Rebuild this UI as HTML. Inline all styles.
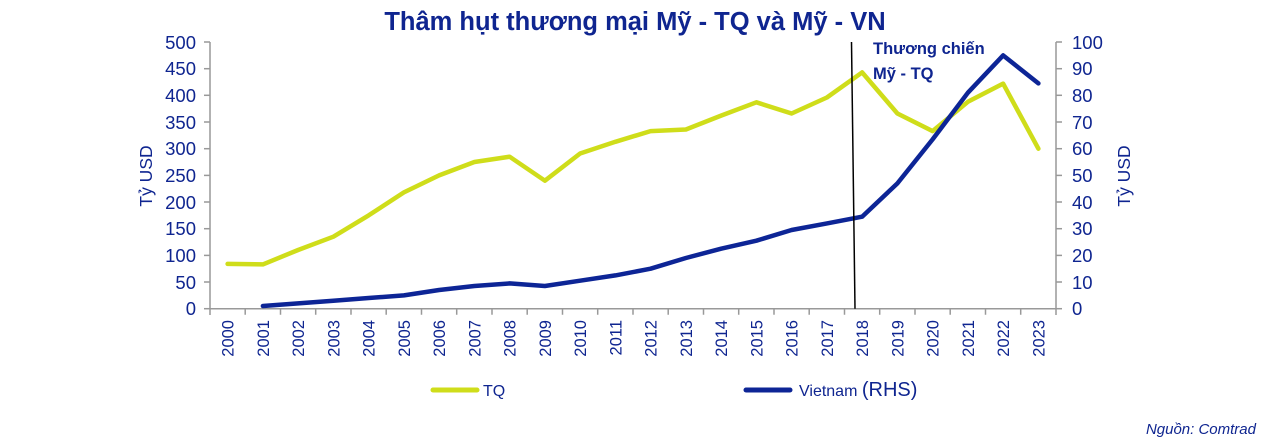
<!DOCTYPE html>
<html><head><meta charset="utf-8"><style>
body{margin:0;background:#fff;}
svg{display:block;font-family:"Liberation Sans","DejaVu Sans",sans-serif;}
</style></head><body>
<svg width="1280" height="448" viewBox="0 0 1280 448" xmlns="http://www.w3.org/2000/svg">
<rect width="1280" height="448" fill="#fff"/>
<text x="635" y="30" text-anchor="middle" font-size="25.5" font-weight="bold" fill="#0f2590">Thâm hụt thương mại Mỹ - TQ và Mỹ - VN</text>
<g stroke="#999" stroke-width="1.5" fill="none">
<line x1="210" y1="42" x2="210" y2="315"/>
<line x1="1056" y1="42" x2="1056" y2="315"/>
<line x1="210" y1="308.7" x2="1056" y2="308.7"/>
<g id="lt">
<line x1="204" y1="42" x2="210" y2="42"/><line x1="204" y1="68.7" x2="210" y2="68.7"/><line x1="204" y1="95.3" x2="210" y2="95.3"/><line x1="204" y1="122" x2="210" y2="122"/><line x1="204" y1="148.7" x2="210" y2="148.7"/><line x1="204" y1="175.4" x2="210" y2="175.4"/><line x1="204" y1="202" x2="210" y2="202"/><line x1="204" y1="228.7" x2="210" y2="228.7"/><line x1="204" y1="255.4" x2="210" y2="255.4"/><line x1="204" y1="282" x2="210" y2="282"/><line x1="204" y1="308.7" x2="210" y2="308.7"/>
</g>
<use href="#lt" transform="translate(852,0)"/>
<path d="M245.2 308.7v6M280.5 308.7v6M315.7 308.7v6M351 308.7v6M386.2 308.7v6M421.5 308.7v6M456.7 308.7v6M492 308.7v6M527.2 308.7v6M562.5 308.7v6M597.7 308.7v6M633 308.7v6M668.2 308.7v6M703.5 308.7v6M738.7 308.7v6M774 308.7v6M809.2 308.7v6M844.5 308.7v6M879.7 308.7v6M915 308.7v6M950.2 308.7v6M985.5 308.7v6M1020.7 308.7v6"/>
</g>
<g font-size="18.5" fill="#0f2590" text-anchor="end">
<text x="196" y="49">500</text><text x="196" y="75">450</text><text x="196" y="102">400</text><text x="196" y="129">350</text><text x="196" y="155">300</text><text x="196" y="182">250</text><text x="196" y="209">200</text><text x="196" y="235">150</text><text x="196" y="262">100</text><text x="196" y="289">50</text><text x="196" y="315">0</text>
</g>
<g font-size="18.5" fill="#0f2590" text-anchor="start">
<text x="1072" y="49">100</text><text x="1072" y="75">90</text><text x="1072" y="102">80</text><text x="1072" y="129">70</text><text x="1072" y="155">60</text><text x="1072" y="182">50</text><text x="1072" y="209">40</text><text x="1072" y="235">30</text><text x="1072" y="262">20</text><text x="1072" y="289">10</text><text x="1072" y="315">0</text>
</g>
<text transform="translate(152,176) rotate(-90)" text-anchor="middle" font-size="17.5" fill="#0f2590">Tỷ USD</text>
<text transform="translate(1130,176) rotate(-90)" text-anchor="middle" font-size="17.5" fill="#0f2590">Tỷ USD</text>
<g font-size="16.5" fill="#0f2590" text-anchor="end">
<text transform="translate(233.5,320) rotate(-90)">2000</text><text transform="translate(268.8,320) rotate(-90)">2001</text><text transform="translate(304,320) rotate(-90)">2002</text><text transform="translate(339.3,320) rotate(-90)">2003</text><text transform="translate(374.5,320) rotate(-90)">2004</text><text transform="translate(409.8,320) rotate(-90)">2005</text><text transform="translate(445,320) rotate(-90)">2006</text><text transform="translate(480.3,320) rotate(-90)">2007</text><text transform="translate(515.5,320) rotate(-90)">2008</text><text transform="translate(550.8,320) rotate(-90)">2009</text><text transform="translate(586,320) rotate(-90)">2010</text><text transform="translate(621.3,320) rotate(-90)">2011</text><text transform="translate(656.5,320) rotate(-90)">2012</text><text transform="translate(691.8,320) rotate(-90)">2013</text><text transform="translate(727,320) rotate(-90)">2014</text><text transform="translate(762.3,320) rotate(-90)">2015</text><text transform="translate(797.5,320) rotate(-90)">2016</text><text transform="translate(832.8,320) rotate(-90)">2017</text><text transform="translate(868,320) rotate(-90)">2018</text><text transform="translate(903.3,320) rotate(-90)">2019</text><text transform="translate(938.5,320) rotate(-90)">2020</text><text transform="translate(973.8,320) rotate(-90)">2021</text><text transform="translate(1009,320) rotate(-90)">2022</text><text transform="translate(1044.3,320) rotate(-90)">2023</text>
</g>
<polyline fill="none" stroke="#cfdd1a" stroke-width="4.5" stroke-linejoin="round" stroke-linecap="round" points="227.6,263.9 262.9,264.4 298.1,250 333.4,236.7 368.6,215.4 403.9,192.4 439.1,175.4 474.4,162 509.6,156.7 544.9,180.7 580.1,153.5 615.4,141.8 650.6,131.1 685.9,129.5 721.1,115.6 756.4,102.3 791.6,113.5 826.9,97.5 862.1,72.4 897.4,113.5 932.6,131.1 967.9,101.8 1003.1,83.6 1038.4,148.7"/>
<polyline fill="none" stroke="#0d2596" stroke-width="4.5" stroke-linejoin="round" stroke-linecap="round" points="262.9,306 298.1,303.4 333.4,300.7 368.6,298 403.9,295.4 439.1,290 474.4,286 509.6,283.4 544.9,286 580.1,280.7 615.4,275.4 650.6,268.7 685.9,258 721.1,248.7 756.4,240.7 791.6,230 826.9,223.4 862.1,216.7 897.4,183.4 932.6,139.4 967.9,92.7 1003.1,55.4 1038.4,83.4"/>
<line x1="851.5" y1="42" x2="855" y2="308.7" stroke="#000" stroke-width="1.5"/>
<text x="873" y="54" font-size="16.5" font-weight="bold" fill="#0f2590">Thương chiến</text>
<text x="873" y="79" font-size="16.5" font-weight="bold" fill="#0f2590">Mỹ - TQ</text>
<line x1="433" y1="390" x2="477" y2="390" stroke="#cfdd1a" stroke-width="5" stroke-linecap="round"/>
<text x="483" y="396" font-size="16" fill="#0f2590">TQ</text>
<line x1="746" y1="390" x2="790" y2="390" stroke="#0d2596" stroke-width="5" stroke-linecap="round"/>
<text x="799" y="396" font-size="16" fill="#0f2590">Vietnam <tspan font-size="20">(RHS)</tspan></text>
<text x="1256" y="434" text-anchor="end" font-size="15" font-style="italic" fill="#0f2590">Nguồn: Comtrad</text>
</svg>
</body></html>
